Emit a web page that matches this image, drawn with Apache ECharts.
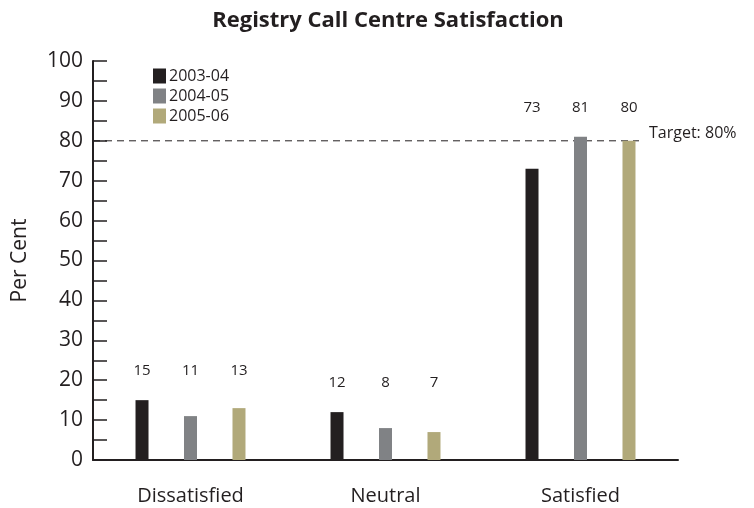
<!DOCTYPE html>
<html>
<head>
<meta charset="utf-8">
<script src="https://cdn.jsdelivr.net/npm/echarts@6/dist/echarts.min.js"></script>
<style>
  html, body { margin: 0; padding: 0; background: #fff; }
  #chart { width: 754px; height: 508px; }
</style>
</head>
<body>
<div id="chart"></div>
<script>
const categories = ['Dissatisfied', 'Neutral', 'Satisfied']
const years = ['2003-04', '2004-05', '2005-06']
const values = [
    [15, 12, 73],
    [11, 8, 81],
    [13, 7, 80],
]
const colors = ['#231f20', '#808285', '#b1a97a']
const target = 80
const targetEnd = 2.8   // where the dashed line stops, in category units

// layout
const gridTop = 61
const gridBottom = 48
const plotH = 508 - gridTop - gridBottom
const yMax = 100
const pxPerUnit = plotH / yMax

// labels sit at a common height per category, above the tallest bar
const catMax = categories.map((c, i) => Math.max(...values.map(s => s[i])))

const barSeries = years.map((y, si) => ({
    name: y,
    type: 'bar',
    barWidth: 13,
    barGap: '273%',
    itemStyle: { color: colors[si] },
    data: values[si].map((v, ci) => ({
        value: v,
        label: { offset: [0, -(catMax[ci] - v) * pxPerUnit - 17] }
    })),
    label: {
        show: true,
        position: 'top',
        distance: 5,
        color: '#231f20',
        fontSize: 15,
        fontFamily: 'Open Sans'
    }
}))

const option = {
    animation: false,
    title: {
        text: 'Registry Call Centre Satisfaction',
        left: 383,
        textAlign: 'center',
        top: 5,
        textStyle: { fontFamily: 'Open Sans', fontWeight: 'bold', fontSize: 22, color: '#231f20' }
    },
    legend: {
        data: years,
        orient: 'vertical',
        left: 148,
        top: 63,
        itemWidth: 13,
        itemHeight: 15,
        itemGap: 4,
        icon: 'rect',
        textStyle: { fontFamily: 'Open Sans', fontSize: 16, lineHeight: 15, color: '#231f20', padding: [0, 0, 0, -2] }
    },
    grid: { left: 93, right: 76, top: gridTop, bottom: gridBottom },
    xAxis: [{
        type: 'category',
        data: categories,
        axisLine: { lineStyle: { color: '#231f20', width: 2 } },
        axisTick: { inside: true, length: 8, lineStyle: { color: '#231f20', width: 2 } },
        axisLabel: { margin: 26, fontSize: 20, fontFamily: 'Open Sans', color: '#231f20' }
    }, {
        type: 'value',
        min: 0,
        max: 3,
        show: false
    }],
    yAxis: {
        type: 'value',
        min: 0,
        max: yMax,
        interval: 10,
        name: 'Per Cent',
        nameLocation: 'middle',
        nameGap: 62,
        nameTextStyle: { fontSize: 21, fontFamily: 'Open Sans', color: '#231f20' },
        axisLine: { show: true, lineStyle: { color: '#231f20', width: 2 } },
        axisTick: { show: true, inside: true, length: 14, lineStyle: { color: '#231f20', width: 1.5 } },
        minorTick: { show: true, splitNumber: 2, length: 14, lineStyle: { color: '#231f20', width: 1.5 } },
        splitLine: { show: false },
        axisLabel: { margin: 10, fontSize: 21, fontFamily: 'Open Sans', color: '#231f20' }
    },
    series: [...barSeries, {
        name: 'Target',
        type: 'line',
        xAxisIndex: 1,
        yAxisIndex: 0,
        symbol: 'none',
        data: [[0, target], [targetEnd, target]],
        lineStyle: { color: '#231f20', width: 1, type: [7, 5] },
        endLabel: {
            show: true,
            formatter: 'Target: ' + target + '%',
            distance: 10,
            fontSize: 16,
            fontFamily: 'Open Sans',
            color: '#231f20',
            offset: [0, -7]
        },
        z: 1
    }]
}

const chart = echarts.init(document.getElementById('chart'))
chart.setOption(option)
</script>
</body>
</html>
